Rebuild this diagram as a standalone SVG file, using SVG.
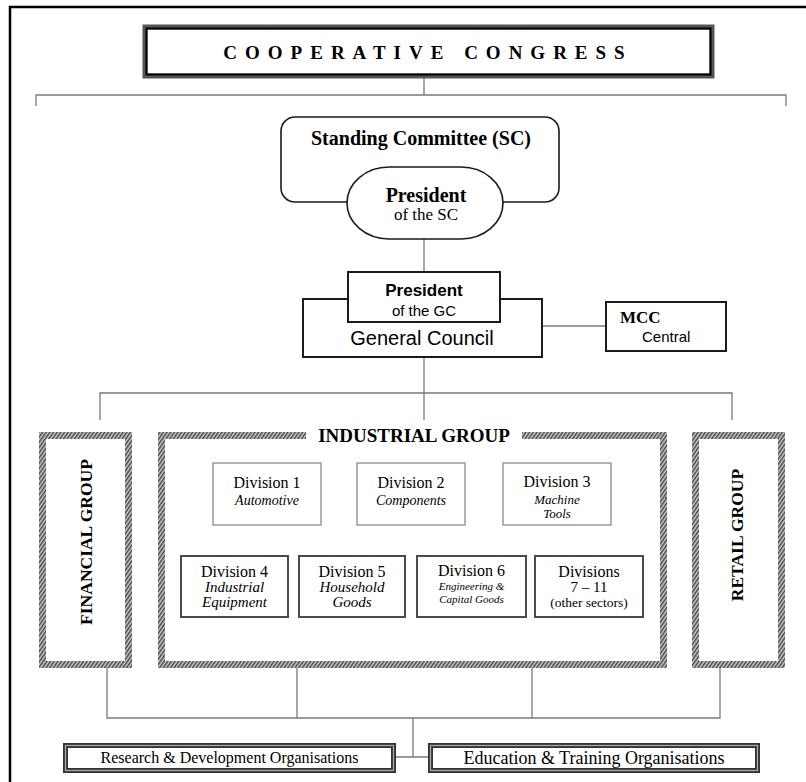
<svg xmlns="http://www.w3.org/2000/svg" width="806" height="782" viewBox="0 0 806 782">
<defs>
<pattern id="hatch" patternUnits="userSpaceOnUse" width="3" height="3" patternTransform="rotate(35)">
<rect width="3" height="3" fill="#d0d0d0"/>
<rect width="1.5" height="3" fill="#444"/>
</pattern>
</defs>
<style>
.serif{font-family:"Liberation Serif","Times New Roman",serif}
.sans{font-family:"Liberation Sans",Arial,sans-serif}
.b{font-weight:bold}
.i{font-style:italic}
.c{text-anchor:middle}
.conn{stroke:#7a7a7a;stroke-width:1.3;fill:none}
.box{fill:#fff;stroke:#1a1a1a;stroke-width:2}
.hatch{fill:#fff;stroke:url(#hatch);stroke-width:7}
.div1{fill:#fff;stroke:#8a8a8a;stroke-width:1.3}
.div2{fill:#fff;stroke:#4a4a4a;stroke-width:2}
</style>
<rect width="806" height="782" fill="#fff"/>
<path d="M10,782 V7 H806" fill="none" stroke="#000" stroke-width="2.5"/>

<g id="connectors">
<path class="conn" d="M424,77 V95 M36,106 V95 H786 V106"/>
<path class="conn" d="M424,239 V272"/>
<path class="conn" d="M542,326 H606"/>
<path class="conn" d="M424,357 V420 M100,420 V393 H732 V420"/>
<path class="conn" d="M107,668 V718 H720 V668 M297,668 V718 M532,668 V718 M413,718 V757 M396,757 H428"/>
</g>

<g id="congress">
<rect x="145" y="27" width="567" height="49" fill="#fff" stroke="#555" stroke-width="5"/>
<rect x="146.5" y="28.5" width="564" height="46" fill="none" stroke="#000" stroke-width="2"/>
<text x="428" y="59" class="serif b c" font-size="19" letter-spacing="8">COOPERATIVE CONGRESS</text>
</g>

<g id="standing-committee">
<rect x="281" y="117" width="278" height="85" rx="14" fill="#fff" stroke="#1a1a1a" stroke-width="1.6"/>
<text x="421" y="145" class="serif b c" font-size="20">Standing Committee (SC)</text>
</g>

<g id="president-sc">
<rect x="347" y="167" width="156" height="72" rx="42" ry="36" fill="#fff" stroke="#1a1a1a" stroke-width="1.6"/>
<text x="426" y="202" class="serif b c" font-size="20">President</text>
<text x="426" y="220" class="serif c" font-size="17">of the SC</text>
</g>

<g id="general-council">
<rect x="303" y="299" width="239" height="58" class="box"/>
<text x="422" y="345" class="sans c" font-size="20">General Council</text>
</g>

<g id="president-gc">
<rect x="348" y="272" width="152" height="50" class="box"/>
<text x="424" y="296" class="sans b c" font-size="17">President</text>
<text x="424" y="316" class="sans c" font-size="15">of the GC</text>
</g>

<g id="mcc">
<rect x="606" y="302" width="120" height="49" class="box"/>
<text x="620" y="323" class="serif b" font-size="17">MCC</text>
<text x="642" y="342" class="sans" font-size="15">Central</text>
</g>

<g id="financial-group">
<rect x="42.5" y="435.5" width="86" height="229" class="hatch"/>
<text transform="translate(92,542) rotate(-90)" class="serif b c" font-size="17.5">FINANCIAL GROUP</text>
</g>

<g id="industrial-group">
<rect x="161.5" y="435.5" width="502" height="229" class="hatch"/>
<rect x="306" y="426" width="216" height="16" fill="#fff"/>
<text x="414" y="442" class="serif b c" font-size="19">INDUSTRIAL GROUP</text>
</g>

<g id="retail-group">
<rect x="695.5" y="435.5" width="86" height="229" class="hatch"/>
<text transform="translate(743,535) rotate(-90)" class="serif b c" font-size="17.5">RETAIL GROUP</text>
</g>

<g id="division-1">
<rect x="213" y="463" width="108" height="62" class="div1"/>
<text x="267" y="488" class="serif c" font-size="16">Division 1</text>
<text x="267" y="505" class="serif i c" font-size="14">Automotive</text>
</g>
<g id="division-2">
<rect x="357" y="463" width="108" height="62" class="div1"/>
<text x="411" y="488" class="serif c" font-size="16">Division 2</text>
<text x="411" y="505" class="serif i c" font-size="14">Components</text>
</g>
<g id="division-3">
<rect x="503" y="463" width="108" height="62" class="div1"/>
<text x="557" y="487" class="serif c" font-size="16">Division 3</text>
<text x="557" y="504" class="serif i c" font-size="13">Machine</text>
<text x="557" y="518" class="serif i c" font-size="13">Tools</text>
</g>

<g id="division-4">
<rect x="181" y="556" width="107" height="61" class="div2"/>
<text x="234.5" y="577" class="serif c" font-size="16">Division 4</text>
<text x="234.5" y="592" class="serif i c" font-size="15">Industrial</text>
<text x="234.5" y="607" class="serif i c" font-size="15">Equipment</text>
</g>
<g id="division-5">
<rect x="299" y="556" width="106" height="61" class="div2"/>
<text x="352" y="577" class="serif c" font-size="16">Division 5</text>
<text x="352" y="592" class="serif i c" font-size="15">Household</text>
<text x="352" y="607" class="serif i c" font-size="15">Goods</text>
</g>
<g id="division-6">
<rect x="417" y="556" width="109" height="61" class="div2"/>
<text x="471.5" y="576" class="serif c" font-size="16">Division 6</text>
<text x="471.5" y="590" class="serif i c" font-size="11">Engineering &amp;</text>
<text x="471.5" y="603" class="serif i c" font-size="11">Capital Goods</text>
</g>
<g id="divisions-7-11">
<rect x="535" y="556" width="108" height="61" class="div2"/>
<text x="589" y="577" class="serif c" font-size="16">Divisions</text>
<text x="589" y="592" class="serif c" font-size="15">7 – 11</text>
<text x="589" y="607" class="serif c" font-size="13.5">(other sectors)</text>
</g>

<g id="research-development">
<rect x="65.5" y="745.5" width="328" height="25" fill="#fff" stroke="#333" stroke-width="5"/>
<rect x="65.5" y="745.5" width="328" height="25" fill="none" stroke="#aaa" stroke-width="1.3"/>
<text x="229.5" y="763" class="serif c" font-size="16">Research &amp; Development Organisations</text>
</g>
<g id="education-training">
<rect x="430.5" y="745.5" width="327" height="25" fill="#fff" stroke="#333" stroke-width="5"/>
<rect x="430.5" y="745.5" width="327" height="25" fill="none" stroke="#aaa" stroke-width="1.3"/>
<text x="594" y="764" class="serif c" font-size="18">Education &amp; Training Organisations</text>
</g>
</svg>
